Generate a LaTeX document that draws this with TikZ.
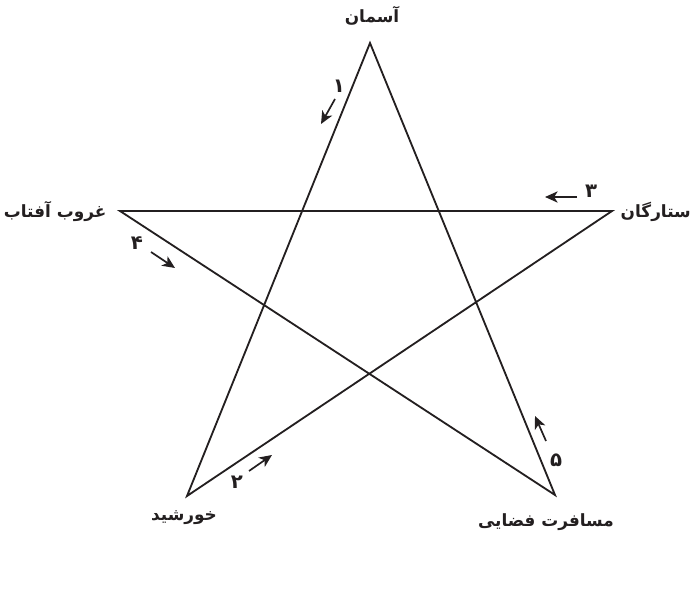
\documentclass[tikz,border=0pt]{standalone}
\usepackage{fontspec}
\usetikzlibrary{arrows.meta}
\TeXXeTstate=1
\newfontfamily\arabicfont[Script=Arabic]{DejaVu Sans}
\definecolor{Ink}{HTML}{231F20}

\begin{document}
\begin{tikzpicture}[x=0.025cm,y=-0.025cm,>=stealth]
\tikzset{
  edge/.style={Ink,line width=1.3pt},
  tip/.style={Ink,line width=1.2pt,-{Stealth[length=9pt,width=8pt,inset=2.5pt]}},
  word/.style={font=\arabicfont\bfseries\fontsize{12}{14}\selectfont,text=Ink,inner sep=1pt},
  num/.style={font=\arabicfont\bfseries\fontsize{14}{16}\selectfont,text=Ink,inner sep=1pt}
}
\useasboundingbox (0,0) rectangle (695,602);
% star points
\coordinate (top) at (370,43);
\coordinate (lft) at (120,211);
\coordinate (rgt) at (612,211);
\coordinate (bl) at (187,496);
\coordinate (br) at (555,495);
% names
\node[word] (sky) at (372,16) {\beginR آسمان\endR};
\node[word,anchor=east] (sunset) at (108,212) {\beginR غروب آفتاب\endR};
\node[word,anchor=west] (stars) at (619,212) {\beginR ستارگان\endR};
\node[word] (sun) at (184,518) {\beginR خورشید\endR};
\node[word] (space) at (546,522) {\beginR مسافرت فضایی\endR};
% lines of the star
\draw[edge] (top) -- (bl) -- (rgt) -- (lft) -- (br) -- cycle;
% step arrows
\coordinate (s1) at (335,99); \coordinate (e1) at (321,124);
\coordinate (s2) at (249,471); \coordinate (e2) at (272,455);
\coordinate (s3) at (577,197); \coordinate (e3) at (545,197);
\coordinate (s4) at (151,252); \coordinate (e4) at (175,268);
\coordinate (s5) at (546,441); \coordinate (e5) at (535,416);
\draw[tip] (s1) -- (e1);
\draw[tip] (s2) -- (e2);
\draw[tip] (s3) -- (e3);
\draw[tip] (s4) -- (e4);
\draw[tip] (s5) -- (e5);
\node[num] (n1) at (339,86) {\beginR ۱\endR};
\node[num] (n2) at (237,482) {\beginR ۲\endR};
\node[num] (n3) at (591,191) {\beginR ۳\endR};
\node[num] (n4) at (137,243) {\beginR ۴\endR};
\node[num] (n5) at (556,460) {\beginR ۵\endR};
\end{tikzpicture}
\end{document}
